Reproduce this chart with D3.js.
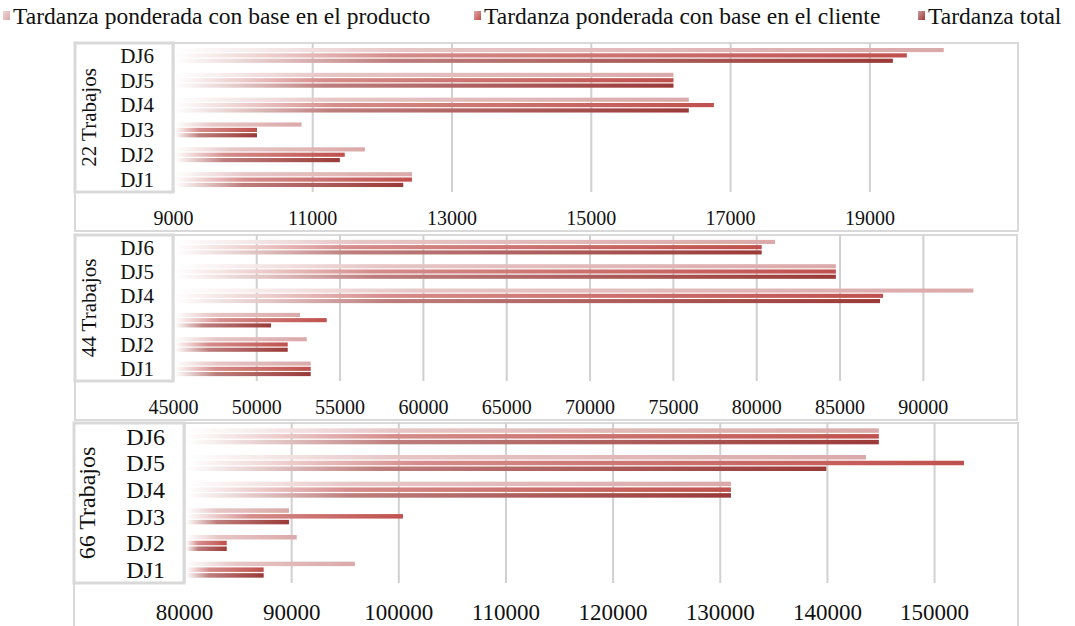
<!DOCTYPE html>
<html>
<head>
<meta charset="utf-8">
<script src="https://cdn.jsdelivr.net/npm/d3@7"></script>
<style>
  body { margin: 0; background: #fff; }
  text { font-family: "Liberation Serif", "Times New Roman", serif; fill: #111; }
</style>
</head>
<body>
<div id="chart"></div>
<script>
// Series / categories
const seriesNames = [
  "Tardanza ponderada con base en el producto",
  "Tardanza ponderada con base en el cliente",
  "Tardanza total"
];
const seriesColors = ["#dba9a9", "#c0504d", "#9b3a38"];
const categories = ["DJ1", "DJ2", "DJ3", "DJ4", "DJ5", "DJ6"];
const panelTitles = ["22 Trabajos", "44 Trabajos", "66 Trabajos"];

// 22 trabajos
const product22 = [12425, 11750, 10840, 16400, 16180, 20060];
const client22 = [12425, 11460, 10200, 16760, 16180, 19530];
const total22 = [12300, 11390, 10200, 16400, 16180, 19330];
const ticks22 = [9000, 11000, 13000, 15000, 17000, 19000];
const domain22 = [9000, 21000];

// 44 trabajos
const product44 = [53240, 53000, 52600, 93000, 84750, 81100];
const client44 = [53240, 51860, 54200, 87580, 84750, 80300];
const total44 = [53240, 51860, 50860, 87400, 84750, 80300];
const ticks44 = [45000, 50000, 55000, 60000, 65000, 70000, 75000, 80000, 85000, 90000];
const domain44 = [45000, 95000];

// 66 trabajos
const product66 = [95900, 90470, 89750, 131000, 143600, 144800];
const client66 = [87390, 83940, 100390, 131000, 152750, 144800];
const total66 = [87390, 83940, 89750, 131000, 139900, 144800];
const ticks66 = [80000, 90000, 100000, 110000, 120000, 130000, 140000, 150000];
const domain66 = [80000, 160000];

const W = 1075, H = 626;

const panels = [
  { title: panelTitles[0], values: [product22, client22, total22], ticks: ticks22, domain: domain22,
    box: [75, 43, 1018, 231], x0: 173.4, x1: 1009.2, yTop: 43, yBot: 192, labelRight: 173, fs: 20, tickY: 225 },
  { title: panelTitles[1], values: [product44, client44, total44], ticks: ticks44, domain: domain44,
    box: [75, 235, 1017, 420], x0: 173.4, x1: 1006.7, yTop: 235, yBot: 381, labelRight: 173, fs: 20, tickY: 414 },
  { title: panelTitles[2], values: [product66, client66, total66], ticks: ticks66, domain: domain66,
    box: [74, 423, 1018, 660], x0: 184.5, x1: 1041.7, yTop: 423, yBot: 583, labelRight: 184, fs: 23, tickY: 620 }
];

const svg = d3.select("#chart").append("svg")
  .attr("width", W).attr("height", H)
  .attr("viewBox", [0, 0, W, H]);

// gradients (white -> series colour)
const defs = svg.append("defs");
seriesColors.forEach((c, i) => {
  const g = defs.append("linearGradient").attr("id", "grad" + i)
    .attr("x1", 0).attr("x2", 1).attr("y1", 0).attr("y2", 0);
  g.append("stop").attr("offset", 0).attr("stop-color", "#ffffff");
  g.append("stop").attr("offset", 0.3).attr("stop-color", d3.interpolateRgb("#ffffff", c)(0.66));
  g.append("stop").attr("offset", 1).attr("stop-color", c);
});
seriesColors.forEach((c, i) => {
  const g = defs.append("linearGradient").attr("id", "sw" + i)
    .attr("x1", 0).attr("x2", 1).attr("y1", 0).attr("y2", 1);
  g.append("stop").attr("offset", 0).attr("stop-color", d3.interpolateRgb("#ffffff", c)(0.5));
  g.append("stop").attr("offset", 1).attr("stop-color", c);
});

// legend
const legendX = [3, 474, 918];
const legend = svg.append("g");
seriesNames.forEach((name, i) => {
  const gi = legend.append("g").attr("transform", `translate(${legendX[i]},0)`);
  gi.append("rect").attr("x", 0).attr("y", 11).attr("width", 7).attr("height", 9)
    .attr("fill", `url(#sw${i})`);
  gi.append("text").attr("x", 10).attr("y", 24).attr("font-size", 23.5).text(name);
});

panels.forEach(p => {
  const g = svg.append("g");
  const [bx0, by0, bx1, by1] = p.box;

  // panel frame
  g.append("rect").attr("x", bx0).attr("y", by0)
    .attr("width", bx1 - bx0).attr("height", by1 - by0)
    .attr("fill", "#fff").attr("stroke", "#d9d9d9").attr("stroke-width", 2);

  const x = d3.scaleLinear(p.domain, [p.x0, p.x1]);
  const y = d3.scaleBand(categories.slice().reverse(), [p.yTop, p.yBot])
    .paddingInner(0.4).paddingOuter(0.2);
  const ys = d3.scaleBand(d3.range(seriesNames.length), [0, y.bandwidth()]).paddingInner(0.22);

  // gridlines
  g.append("g").selectAll("line").data(p.ticks).join("line")
    .attr("x1", d => x(d)).attr("x2", d => x(d))
    .attr("y1", p.yTop).attr("y2", p.yBot)
    .attr("stroke", "#d0d0d0").attr("stroke-width", 2);

  // bars
  p.values.forEach((vals, si) => {
    g.append("g").selectAll("rect").data(vals).join("rect")
      .attr("x", x(p.domain[0]) + 1.5)
      .attr("y", (d, i) => y(categories[i]) + ys(si))
      .attr("width", d => Math.max(0, x(d) - x(p.domain[0]) - 1.5))
      .attr("height", ys.bandwidth())
      .attr("fill", `url(#grad${si})`);
  });

  // label box
  g.append("rect").attr("x", bx0).attr("y", p.yTop)
    .attr("width", p.labelRight - bx0).attr("height", p.yBot - p.yTop)
    .attr("fill", "#fff").attr("stroke", "#d9d9d9").attr("stroke-width", 3);

  // category labels
  g.append("g").selectAll("text").data(categories).join("text")
    .attr("x", p.labelRight - 19)
    .attr("y", d => y(d) + y.bandwidth() / 2)
    .attr("dy", "0.35em")
    .attr("text-anchor", "end")
    .attr("font-size", p.fs + 1)
    .text(d => d);

  // rotated title
  const cy = (p.yTop + p.yBot) / 2;
  g.append("text")
    .attr("transform", `translate(${bx0 + 21},${cy}) rotate(-90)`)
    .attr("text-anchor", "middle")
    .attr("font-size", p.fs + 1)
    .text(p.title);

  // tick labels
  g.append("g").selectAll("text").data(p.ticks).join("text")
    .attr("x", d => x(d)).attr("y", p.tickY)
    .attr("text-anchor", "middle")
    .attr("font-size", p.fs)
    .text(d => d);
});
</script>
</body>
</html>
